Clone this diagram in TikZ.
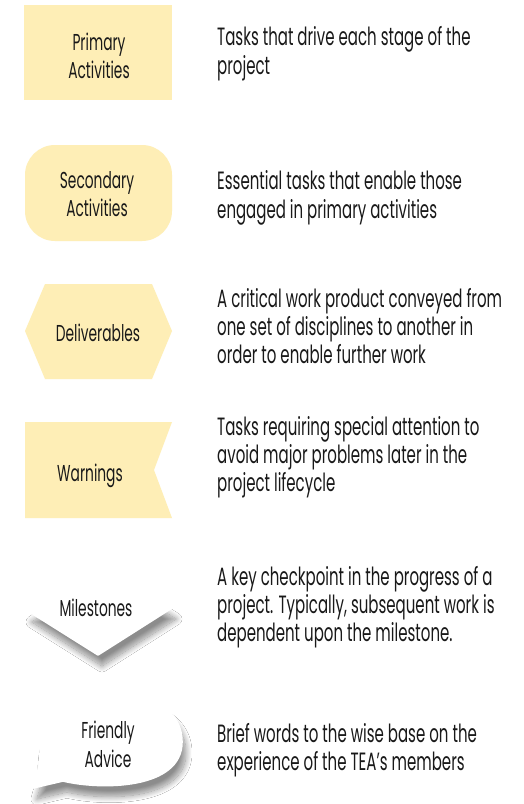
\documentclass[tikz,border=0pt]{standalone}
\usepackage{fontspec}
\setmainfont{Poppins}[FakeStretch=0.6]
\usetikzlibrary{shadows.blur}
\definecolor{pale}{RGB}{254,238,182}
\definecolor{ink}{RGB}{25,25,25}
\begin{document}
\begin{tikzpicture}[x=1pt,y=-1pt,
  desc/.style={anchor=base west,inner sep=0pt,font=\fontsize{25}{28}\selectfont,text=ink},
  lbl/.style={anchor=base,inner sep=0pt,font=\fontsize{23}{28}\selectfont,text=ink},
  tile/.style={fill=pale,draw=none},
  shd/.style={blur shadow={shadow xshift=4pt,shadow yshift=-11pt,shadow blur radius=6pt,shadow blur steps=16,shadow opacity=45}},
  flat/.style={fill=white,draw=white,line width=1.6pt,line join=round}]
\fill[white] (0,0) rectangle (524,804);
\useasboundingbox (0,0) rectangle (524,804);

% shapes
\path[tile] (24,5) rectangle (172,100);
\path[tile,rounded corners=30pt] (25,145) rectangle (172,241);
\path[tile] (25,331) -- (45,284) -- (152,284) -- (172,331) -- (152,379) -- (45,379) -- cycle;
\path[tile] (25,422) -- (172,422) -- (154,470) -- (172,518) -- (25,518) -- cycle;
\path[flat,shd] (100,563) -- (172,608) -- (98,655) -- (28,611) -- cycle;
\path[flat,shd] (40,763) -- (33,788) -- (63,781)
  .. controls (100,790) and (182,790) .. (182,742)
  .. controls (182,700) and (130,691) .. (100,693)
  .. controls (62,696) and (38,722) .. (40,763) -- cycle;

% labels
\node[lbl] (p1) at (99,50.7) {Primary};
\node[lbl] (p2) at (99,78.3) {Activities};
\node[lbl] (s1) at (97,188) {Secondary};
\node[lbl] (s2) at (97,216) {Activities};
\node[lbl] (dl) at (98,341) {Deliverables};
\node[lbl] (wn) at (90,481) {Warnings};
\node[lbl] (ms) at (96,616) {Milestones};
\node[lbl] (f1) at (108,738) {Friendly};
\node[lbl] (f2) at (108,767) {Advice};

% descriptions
\node[desc] (a1) at (217,45) {Tasks that drive each stage of the};
\node[desc] (a2) at (217,74) {project};
\node[desc] (b1) at (217,189) {Essential tasks that enable those};
\node[desc] (b2) at (217,218) {engaged in primary activities};
\node[desc] (c1) at (217,307) {A critical work product conveyed from};
\node[desc] (c2) at (217,335) {one set of disciplines to another in};
\node[desc] (c3) at (217,363) {order to enable further work};
\node[desc] (w1) at (217,435) {Tasks requiring special attention to};
\node[desc] (w2) at (217,463) {avoid major problems later in the};
\node[desc] (w3) at (217,491) {project lifecycle};
\node[desc] (m1) at (217,585) {A key checkpoint in the progress of a};
\node[desc] (m2) at (217,613) {project. Typically, subsequent work is};
\node[desc] (m3) at (217,641) {dependent upon the milestone.};
\node[desc] (e1) at (217,742) {Brief words to the wise base on the};
\node[desc] (e2) at (217,770) {experience of the TEA’s members};
\end{tikzpicture}
\end{document}
